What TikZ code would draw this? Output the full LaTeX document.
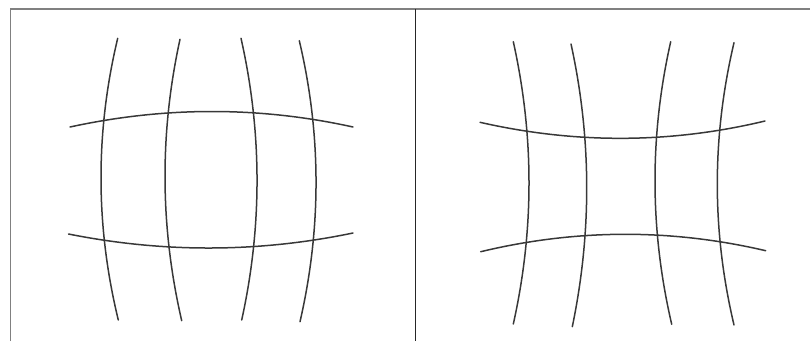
\documentclass[tikz,border=0pt]{standalone}
\usetikzlibrary{calc}
\newcommand\qcurve[3]{\draw[gridline] (#1) .. controls ($(#1)!2/3!(#2)$) and ($(#3)!2/3!(#2)$) .. (#3);}
\begin{document}
\begin{tikzpicture}[x=1pt,y=-1pt,
  gridline/.style={draw=black!78,line width=1.5pt,line cap=round},
  frameline/.style={draw=black!50,line width=1.8pt},
  divider/.style={draw=black!85,line width=1.4pt}]
\useasboundingbox (0,0) rectangle (810,341);
% frame
\draw[frameline] (10.5,341) -- (10.5,9.3) -- (812,9.3);
\draw[divider] (415.7,9.3) -- (415.7,341);
% left panel (barrel)
\qcurve{117.7,38.3}{84,179}{118.3,320}
\qcurve{180,39.3}{149.2,180}{181.7,320.7}
\qcurve{241,38.3}{272.7,178.9}{241.7,320}
\qcurve{299.3,40.7}{332.4,180.8}{300,321.7}
\qcurve{70,127}{212.5,96}{353,127}
\qcurve{68.5,234}{211.25,262.5}{353,233}
% right panel (pincushion)
\qcurve{513.3,41.7}{544.7,183.2}{513.3,324}
\qcurve{571,44}{601.75,184.65}{572.3,326.7}
\qcurve{670.7,41.7}{638.8,183}{671.7,324.3}
\qcurve{734,42.7}{700.6,184.15}{734,325}
\qcurve{480,122.3}{623.5,154.95}{765,121}
\qcurve{480.7,251.7}{623.4,217.4}{765.7,250.7}
\end{tikzpicture}
\end{document}
